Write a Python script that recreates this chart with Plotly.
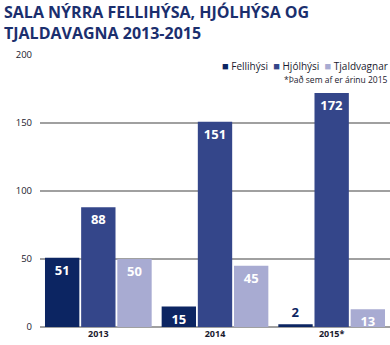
import plotly.graph_objects as go

years = ["2013", "2014", "2015*"]
fellihysi = [51, 15, 2]
hjolhysi = [88, 151, 172]
tjaldavagnar = [50, 45, 13]
series_names = ["Fellihýsi", "Hjólhýsi", "Tjaldvagnar"]
colors = ["#0c2562", "#34468a", "#a8abd2"]
y_ticks = [0, 50, 100, 150, 200]

W, H = 390, 345
fig = go.Figure()
for name, vals, col in zip(series_names, [fellihysi, hjolhysi, tjaldavagnar], colors):
    pos = ["outside" if v < 8 else "inside" for v in vals]
    tcols = ["#0c2562" if v < 8 else "white" for v in vals]
    fig.add_trace(go.Bar(
        x=years, y=vals, name=name, marker=dict(color=col, line=dict(width=0)),
        text=[str(v) for v in vals], textposition=pos, textangle=0,
        textfont=dict(family="Open Sans", size=13, color=tcols, weight="bold"),
        insidetextanchor="end", cliponaxis=False, showlegend=False,
    ))

fig.update_layout(
    width=W, height=H,
    margin=dict(l=40, r=0, t=55, b=18),
    paper_bgcolor="white", plot_bgcolor="white",
    barmode="group", bargap=0.07, bargroupgap=0.05,
    uniformtext=dict(minsize=13, mode="show"),
    font=dict(family="Open Sans", color="#1a1a2e"),
    xaxis=dict(showgrid=False, showline=False, ticks="",
               tickfont=dict(size=9, weight="bold", color="#1a1a2e")),
    yaxis=dict(range=[0, 200], tickvals=y_ticks, showgrid=True, gridcolor="#a0a0a0",
               gridwidth=1.5, zeroline=True, zerolinecolor="#a0a0a0", zerolinewidth=1.5,
               ticks="", ticklabelstandoff=7,
               tickfont=dict(size=9.5, color="#1a1a2e")),
)

fig.add_annotation(
    text="<b>SALA NÝRRA FELLIHÝSA, HJÓLHÝSA OG<br>TJALDAVAGNA 2013-2015</b>",
    xref="paper", yref="paper", x=-38 / 350, y=1 + 56 / 272, xanchor="left", yanchor="top",
    align="left", showarrow=False,
    font=dict(family="Open Sans", size=16, color="#1b2f6e"),
)

legend_text = "  ".join(
    f"<span style='color:{c};font-size:11px'>■</span> {n}" for n, c in zip(series_names, colors)
)
fig.add_annotation(
    text=legend_text, xref="paper", yref="paper", x=1.0, y=1 - 10 / 272,
    xanchor="right", yanchor="middle", showarrow=False,
    font=dict(family="Open Sans", size=10, color="#1a1a2e"),
)
fig.add_annotation(
    text="*Það sem af er árinu 2015",
    xref="paper", yref="paper", x=1.0, y=1 - 24 / 272, xanchor="right", yanchor="middle",
    showarrow=False, font=dict(family="Open Sans", size=8.5, color="#1a1a2e"),
)

fig.write_html("out.html")
